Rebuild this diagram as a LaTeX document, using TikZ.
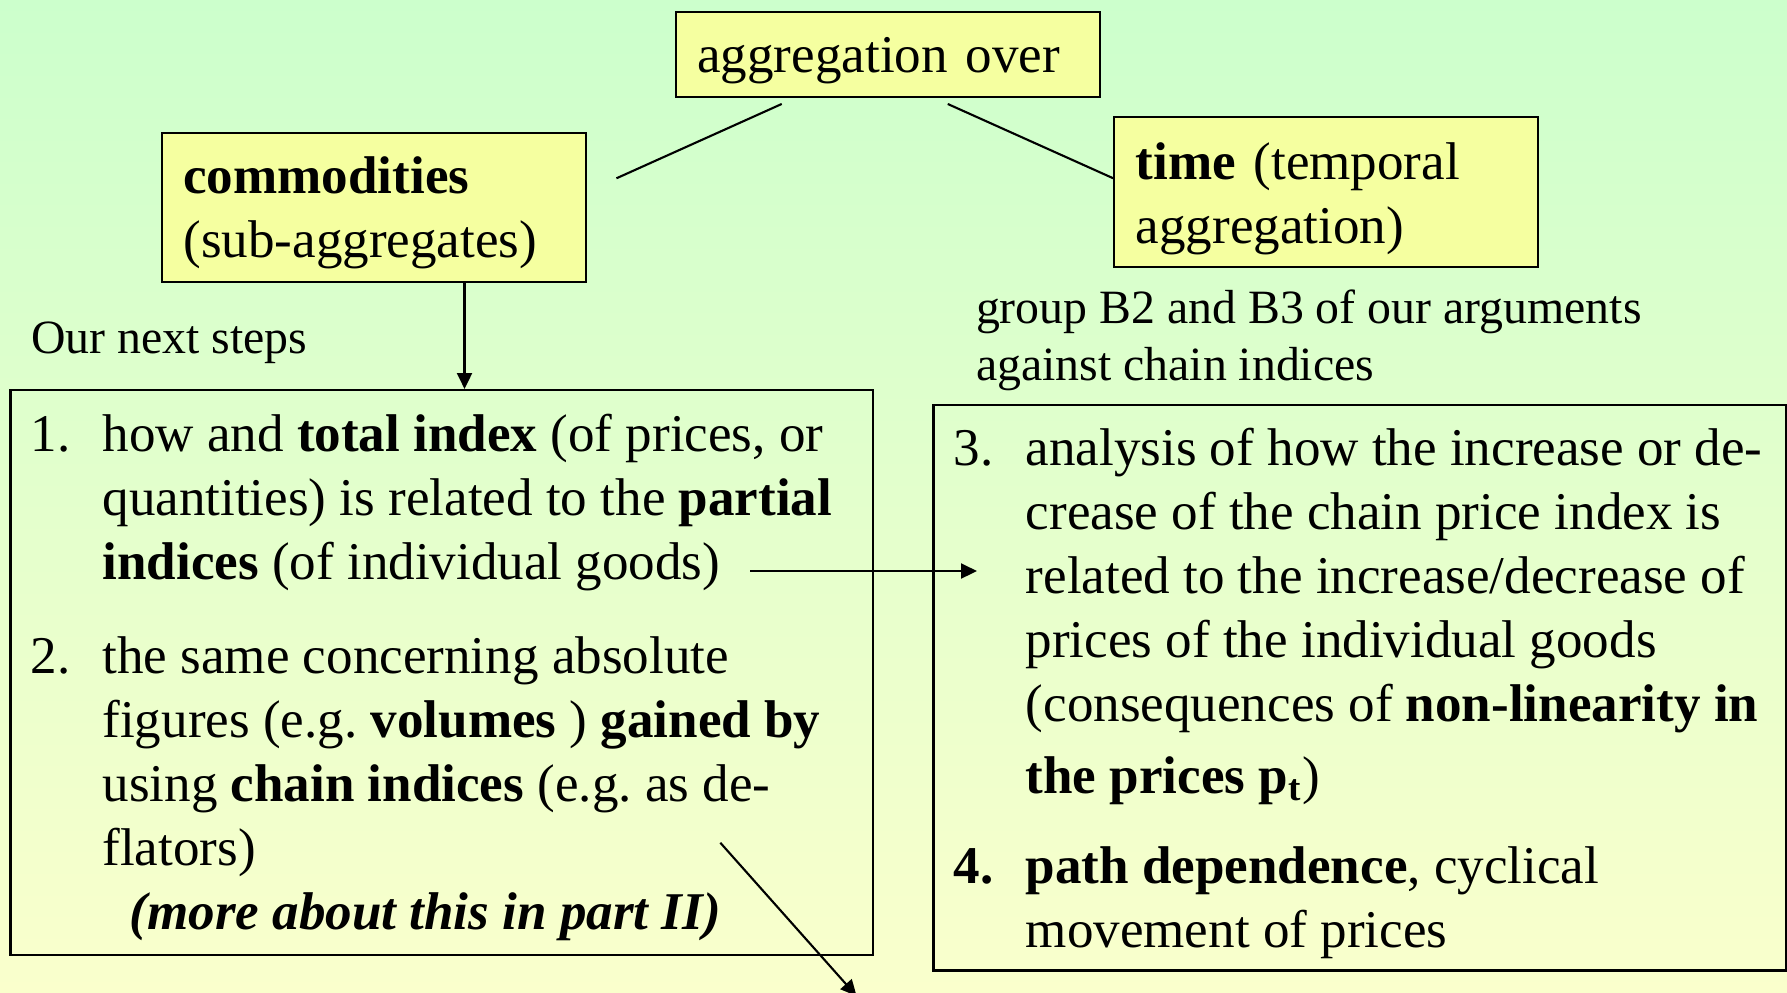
\documentclass[tikz,border=0pt]{standalone}
\usepackage{fontspec}
\setmainfont{Liberation Serif}
\usepackage{xcolor}
\usetikzlibrary{arrows.meta,calc}
\definecolor{bgtop}{RGB}{204,255,204}
\definecolor{bgbottom}{RGB}{250,255,204}
\definecolor{boxyellow}{RGB}{245,255,160}
\newcommand{\numbox}[1]{\makebox[0.72cm][l]{#1}}
\newcommand{\contline}{\hspace*{0.72cm}}
\frenchspacing

\begin{document}
\begin{tikzpicture}[line width=0.6pt, >={Triangle[length=0.16cm,width=0.15cm]}]
  \tikzstyle{ybox} = [draw, line width=0.7pt, fill=boxyellow, inner xsep=0.215cm, inner ysep=0pt, text width=3.81cm, align=left, anchor=north west, font=\fontsize{15.1}{18.2}\selectfont]
  \tikzstyle{listbox} = [draw, line width=0.7pt, inner sep=0pt, anchor=north west]
  \tikzstyle{itemtext} = [inner sep=0pt, align=left, anchor=base west, font=\fontsize{15.1}{18.2}\selectfont]
  \tikzstyle{note} = [inner sep=0pt, align=left, anchor=base west, font=\fontsize{13.6}{16.2}\selectfont]

  % background
  \shade [top color=bgtop, bottom color=bgbottom] (0,0) rectangle (17.87,-9.92);
  \useasboundingbox (0,0) rectangle (17.87,-9.92);

  % yellow boxes
  \node [ybox, text height=0.61cm, text depth=0.245cm] (agg) at (6.746,-0.105) {aggregation over};
  \node [ybox, text height=0.612cm, text depth=0.879cm] (comm) at (1.607,-1.315) {\textbf{commodities}\\(sub-aggregates)};
  \node [ybox, text height=0.623cm, text depth=0.874cm] (time) at (11.13,-1.16) {\textbf{time} (temporal\\aggregation)};

  % labels (base = last line)
  \node [note] (next) at (0.30,-3.533) {Our next steps};
  \node [note] (group) at (9.75,-3.80) {group B2 and B3 of our arguments\\against chain indices};

  % list frames
  \node [listbox, minimum width=8.628cm, minimum height=5.65cm] (stepsbox) at (0.091,-3.89) {};
  \node [listbox, minimum width=8.53cm, minimum height=5.653cm] (argsbox) at (9.323,-4.04) {};

  \node [itemtext] (steps) at (0.295,-9.295) {%
    \numbox{1.}how and \textbf{total index} (of prices, or\\
    \contline quantities) is related to the \textbf{partial}\\
    \contline\textbf{indices} (of individual goods)\\[0.3cm]
    \numbox{2.}the same concerning absolute\\
    \contline figures (e.g. \textbf{volumes} ) \textbf{gained by}\\
    \contline using \textbf{chain indices} (e.g. as de-\\
    \contline flators)\\
    \hspace*{0.99cm}\textbf{\textit{(more about this in part II)}}};
  \node [itemtext] (args) at (9.527,-9.47) {%
    \numbox{3.}analysis of how the increase or de-\\
    \contline crease of the chain price index is\\
    \contline related to the increase/decrease of\\
    \contline prices of the individual goods\\
    \contline (consequences of \textbf{non-linearity in}\\[0.08cm]
    \contline\textbf{the prices p\textsubscript{t}})\\[0.26cm]
    \numbox{\textbf{4.}}\textbf{path dependence}, cyclical\\
    \contline movement of prices};

  % connectors
  \coordinate (fromidx) at (7.50,-5.71);
  \coordinate (toargs) at (9.77,-5.71);
  \coordinate (fromdefl) at (7.203,-8.427);
  \coordinate (todefl) at (8.566,-9.96);

  \draw ([shift={(-1.061,-0.055)}]agg.south) -- ([shift={(0.293,0.29)}]comm.east);
  \draw ([shift={(0.599,-0.055)}]agg.south) -- ([yshift=0.139cm]time.west);
  \draw [->] ([xshift=0.906cm]comm.south) -- ([xshift=0.906cm]comm.south |- stepsbox.north);
  \draw [->] (fromidx) -- (toargs);
  \draw [->] (fromdefl) -- (todefl);
\end{tikzpicture}
\end{document}
